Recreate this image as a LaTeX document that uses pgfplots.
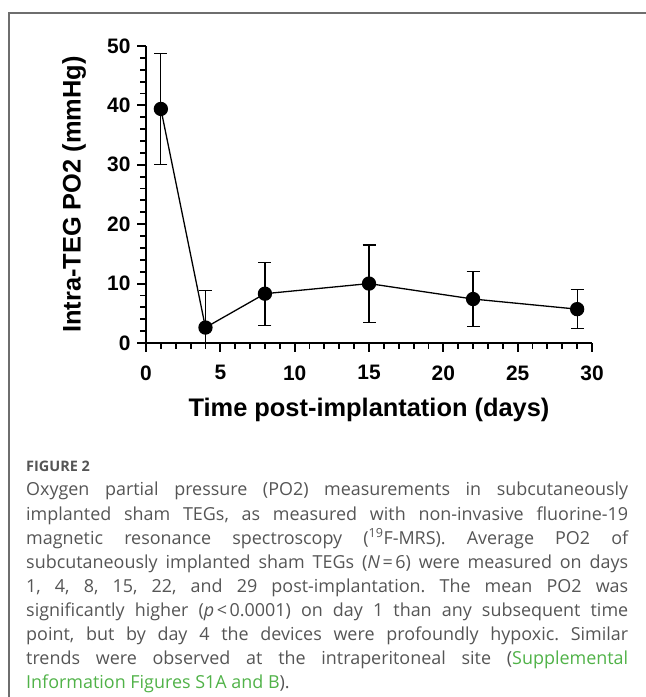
\documentclass[border=0pt]{standalone}
\usepackage{fontspec}
\setmainfont{Liberation Sans}
\newfontfamily\capfont{Open Sans}
\usepackage{xcolor}
\usepackage{pgfplots}
\pgfplotsset{compat=1.18}
\definecolor{capgray}{RGB}{85,85,85}
\definecolor{capgreen}{RGB}{80,178,72}
\definecolor{bordergray}{RGB}{110,110,110}
\frenchspacing
\begin{document}
\begin{tikzpicture}[x=1bp,y=1bp]
\useasboundingbox (0,0) rectangle (646,697);
\draw[bordergray, line width=1.2bp] (9,-5) -- (9,684) -- (660,684);
\begin{axis}[
  at={(146bp,354bp)}, anchor=south west,
  scale only axis, width=446bp, height=297bp,
  xmin=0, xmax=30, ymin=0, ymax=50,
  axis x line*=bottom, axis y line*=left,
  axis line style={-, line width=2.2bp},
  tick align=outside,
  major tick length=9bp, minor tick length=6bp,
  every tick/.style={black, line width=1.9bp},
  every minor tick/.style={black, line width=1.9bp},
  xtick={0,5,...,30}, minor x tick num=4,
  ytick={0,10,...,50}, minor y tick num=4,
  /pgf/number format/assume math mode=true,
  tick label style={font=\bfseries\fontsize{21}{21}\selectfont},
  xticklabel style={yshift=-10bp},
  yticklabel style={xshift=-3bp},
  xlabel={Time post-implantation (days)},
  ylabel={Intra-TEG PO2 (mmHg)},
  label style={font=\bfseries\fontsize{25.5}{25.5}\selectfont},
  xlabel style={at={(axis description cs:0.5,-0.226)}, anchor=center},
  ylabel style={at={(axis description cs:-0.161,0.5)}, anchor=center},
]
\addplot[black, line width=1.3bp, mark=*, mark size=6.5bp, mark options={fill=black},
  error bars/.cd, y dir=both, y explicit,
  error bar style={line width=1.2bp, black},
  error mark options={rotate=90, mark size=6.5bp, line width=1.2bp, black}]
coordinates {
  (1,39.4) +- (0,9.4)
  (4,2.6) +- (0,6.3)
  (8,8.3) +- (0,5.3)
  (15,10.0) +- (0,6.5)
  (22,7.4) +- (0,4.6)
  (29,5.7) +- (0,3.3)
};
\end{axis}
\begin{scope}[every node/.style={anchor=base west, inner sep=0pt, text=capgray, font=\capfont\fontsize{18}{18}\selectfont}]
\node[font=\capfont\bfseries\fontsize{14.5}{14.5}\selectfont] at (26,697-472) {FIGURE 2};
\node at (26,697-496) {\makebox[602bp][s]{Oxygen partial pressure (PO2) measurements in subcutaneously}};
\node at (26,697-520.1) {\makebox[602bp][s]{implanted sham TEGs, as measured with non-invasive fluorine-19}};
\node at (26,697-544.2) {\makebox[602bp][s]{magnetic resonance spectroscopy (\textsuperscript{19}F-MRS). Average PO2 of}};
\node at (26,697-568.3) {\makebox[602bp][s]{subcutaneously implanted sham TEGs (\textit{N}\kern2.5bp=\kern2.5bp6) were measured on days}};
\node at (26,697-592.4) {\makebox[602bp][s]{1, 4, 8, 15, 22, and 29 post-implantation. The mean PO2 was}};
\node at (26,697-616.5) {\makebox[602bp][s]{significantly higher (\textit{p}\kern2.5bp<\kern2.5bp0.0001) on day 1 than any subsequent time}};
\node at (26,697-640.6) {\makebox[602bp][s]{point, but by day 4 the devices were profoundly hypoxic. Similar}};
\node at (26,697-664.7) {\makebox[602bp][s]{trends were observed at the intraperitoneal site (\textcolor{capgreen}{Supplemental}}};
\node at (26,697-688.8) {\textcolor{capgreen}{Information Figures S1A and B}).};
\end{scope}
\end{tikzpicture}
\end{document}
